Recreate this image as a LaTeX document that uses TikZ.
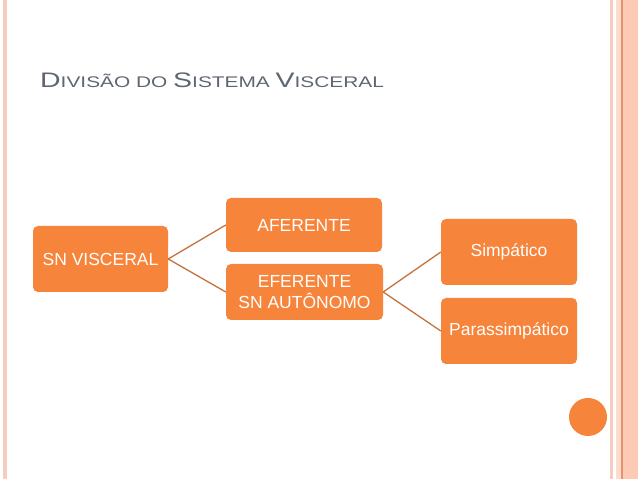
\documentclass[tikz,border=0pt]{standalone}
\usepackage{fontspec}
\usepackage{graphicx}
\setmainfont{Liberation Sans}
\definecolor{boxorange}{HTML}{F6843A}
\definecolor{linkbrown}{HTML}{C4733F}
\definecolor{titlegray}{HTML}{5E6670}
\definecolor{panelpink}{HTML}{FDCAB5}
\definecolor{panelpale}{HTML}{FEDCCD}
\definecolor{paneldark}{HTML}{E8926C}
\definecolor{edgepink}{HTML}{F5CDBE}
\newcommand{\tbig}[1]{{\fontsize{21}{25}\selectfont #1}}
\newcommand{\tsmall}[1]{{\fontsize{15.4}{20}\selectfont #1}}
\tikzset{
  orangebox/.style={fill=boxorange, rounded corners=5pt, text=white, align=center,
    font=\fontsize{17.5}{21.7}\selectfont, inner sep=0pt},
  link/.style={draw=linkbrown, line width=1.3pt}
}
\begin{document}
\begin{tikzpicture}[x=1pt,y=1pt]
\useasboundingbox (0,0) rectangle (638,479);
\fill[white] (0,0) rectangle (638,479);
% side decorations
\fill[edgepink] (3,0) rectangle (6.5,479);
\fill[edgepink] (610,0) rectangle (613,479);
\fill[panelpale] (616,0) rectangle (621,479);
\fill[panelpink] (623,0) rectangle (638,479);
\fill[paneldark] (621,0) rectangle (623,479);
% title
\node[anchor=base west, inner sep=0pt, text=titlegray] (title) at (40,391)
  {\scalebox{1.355}[1]{\tbig{D}\tsmall{IVISÃO DO }\tbig{S}\tsmall{ISTEMA }\tbig{V}\tsmall{ISCERAL}}};
% boxes
\node[orangebox, minimum width=135pt, minimum height=66pt] (vis) at (100.5,220) {SN VISCERAL};
\node[orangebox, minimum width=156pt, minimum height=54pt] (afe) at (304,254) {AFERENTE};
\node[orangebox, minimum width=157pt, minimum height=56pt] (efe) at (304.5,187) {EFERENTE\\SN AUTÔNOMO};
\node[orangebox, minimum width=136pt, minimum height=66pt] (sim) at (509,227) {Simpático};
\node[orangebox, minimum width=136pt, minimum height=66pt] (par) at (509,148) {Parassimpático};
% connectors
\draw[link] (vis.east) -- (afe.west);
\draw[link] (vis.east) -- (efe.west);
\draw[link] (efe.east) -- (sim.west);
\draw[link] (efe.east) -- (par.west);
% circle
\node[circle, fill=boxorange, minimum size=38pt, inner sep=0pt] (dot) at (588,62) {};
\end{tikzpicture}
\end{document}
